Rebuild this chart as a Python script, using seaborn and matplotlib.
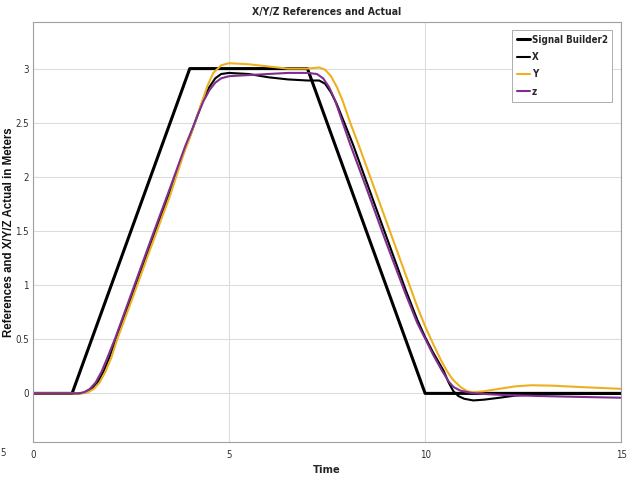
import matplotlib.pyplot as plt
import seaborn as sns

# reference signal (Signal Builder2)
t_ref = [0, 1, 4, 7, 10, 15]
v_ref = [0, 0, 3, 3, 0, 0]

# X actual
t_x = [0, 1.2, 1.35, 1.5, 1.65, 1.8, 1.95, 2.12, 2.5, 3.0, 3.5, 3.87, 4.05, 4.2, 4.35, 4.5, 4.65, 4.8, 5.0,
       5.5, 6.0, 6.5, 7.0, 7.3, 7.45, 7.6, 7.75, 7.94, 8.16, 8.5, 9.0, 9.5, 9.8, 10.0, 10.2, 10.47, 10.6,
       10.72, 10.85, 11.0, 11.23, 11.5, 11.9, 12.3, 12.8, 13.5, 15]
v_x = [0, 0, 0.01, 0.04, 0.1, 0.2, 0.33, 0.5, 0.87, 1.37, 1.87, 2.25, 2.42, 2.57, 2.72, 2.83, 2.91, 2.95,
       2.96, 2.95, 2.92, 2.9, 2.89, 2.89, 2.86, 2.78, 2.67, 2.5, 2.3, 1.96, 1.46, 0.96, 0.68, 0.52, 0.38,
       0.21, 0.1, 0.02, -0.025, -0.05, -0.065, -0.058, -0.04, -0.02, -0.01, -0.006, -0.005]

# Y actual
t_y = [0, 1.25, 1.4, 1.55, 1.7, 1.85, 2.0, 2.15, 2.5, 3.0, 3.5, 3.85, 4.0, 4.13, 4.3, 4.45, 4.6, 4.8, 5.0,
       5.5, 6.0, 6.5, 7.0, 7.3, 7.45, 7.6, 7.75, 7.9, 8.09, 8.3, 8.5, 9.0, 9.5, 9.8, 10.0, 10.2, 10.4,
       10.55, 10.7, 10.9, 11.05, 11.2, 11.5, 11.9, 12.3, 12.7, 13.2, 14, 15]
v_y = [0, 0, 0.01, 0.04, 0.1, 0.2, 0.33, 0.5, 0.84, 1.34, 1.83, 2.22, 2.36, 2.5, 2.68, 2.84, 2.96, 3.03,
       3.05, 3.04, 3.02, 3.0, 3.0, 3.01, 2.99, 2.93, 2.83, 2.7, 2.5, 2.3, 2.1, 1.6, 1.1, 0.8, 0.62, 0.46,
       0.31, 0.21, 0.13, 0.06, 0.025, 0.01, 0.02, 0.043, 0.065, 0.075, 0.072, 0.058, 0.042]

# Z actual
t_z = [0, 1.15, 1.3, 1.45, 1.6, 1.75, 1.9, 2.1, 2.5, 3.0, 3.5, 3.88, 4.05, 4.2, 4.35, 4.5, 4.65, 4.8, 5.0,
       5.5, 6.0, 6.5, 7.0, 7.24, 7.4, 7.55, 7.7, 7.9, 8.09, 8.5, 9.0, 9.5, 9.8, 10.05, 10.2, 10.43, 10.6,
       10.72, 10.9, 11.17, 11.5, 12, 13, 14, 15]
v_z = [0, 0, 0.01, 0.04, 0.1, 0.2, 0.33, 0.51, 0.91, 1.41, 1.9, 2.28, 2.43, 2.57, 2.7, 2.8, 2.87, 2.91,
       2.93, 2.94, 2.95, 2.96, 2.96, 2.95, 2.91, 2.83, 2.71, 2.5, 2.3, 1.9, 1.4, 0.92, 0.65, 0.47, 0.36,
       0.21, 0.11, 0.06, 0.025, 0.005, -0.005, -0.015, -0.025, -0.033, -0.04]

sns.set_style("whitegrid", {"grid.color": "#dcdcdc", "axes.edgecolor": "#a0a0a0"})
plt.rcParams['font.family'] = ['Liberation Sans Narrow', 'DejaVu Sans']
plt.rcParams['font.stretch'] = 'condensed'

fig = plt.figure(figsize=(6.32, 4.79), dpi=100)
ax = fig.add_axes([0.052, 0.077, 0.931, 0.877])

sns.lineplot(x=t_ref, y=v_ref, color='black', linewidth=2.2, label='Signal Builder2', ax=ax)
sns.lineplot(x=t_x, y=v_x, color='black', linewidth=1.5, label='X', ax=ax)
sns.lineplot(x=t_y, y=v_y, color='#EDB120', linewidth=1.5, label='Y', ax=ax)
sns.lineplot(x=t_z, y=v_z, color='#7E2F8E', linewidth=1.5, label='z', ax=ax)

ax.set_xlim(0, 15)
ax.set_ylim(-0.45, 3.43)
ax.set_xticks([0, 5, 10, 15])
ax.set_yticks([0, 0.5, 1, 1.5, 2, 2.5, 3])
ax.set_yticklabels(['0', '0.5', '1', '1.5', '2', '2.5', '3'])
ax.tick_params(axis='both', labelsize=7, colors='#303030', length=0)
ax.tick_params(axis='x', pad=6)
ax.tick_params(axis='y', pad=3)
for s in ax.spines.values():
    s.set_linewidth(0.8)

ax.set_title('X/Y/Z References and Actual', fontsize=7.5, fontweight='bold', pad=5)
ax.set_xlabel('Time', fontsize=8, fontweight='bold', labelpad=3)
ax.set_ylabel('References and X/Y/Z Actual in Meters', fontsize=8.3, fontweight='bold',
              family=['Liberation Sans', 'DejaVu Sans'], stretch='normal', color='#111111')
ax.yaxis.set_label_coords(-0.03, 0.5)

leg = ax.legend(loc='upper right', bbox_to_anchor=(0.985, 0.981),
                prop={'weight': 'bold', 'size': 7},
                handlelength=1.3, handletextpad=0.2, labelspacing=0.75, borderpad=0.5,
                fancybox=False, framealpha=1, borderaxespad=0)
leg.get_frame().set_edgecolor('#a0a0a0')
leg.get_frame().set_linewidth(0.6)

fig.text(0.0, 1 - 456 / 479, '5', fontsize=7, color='#303030')

plt.savefig('out.png', dpi=100)
